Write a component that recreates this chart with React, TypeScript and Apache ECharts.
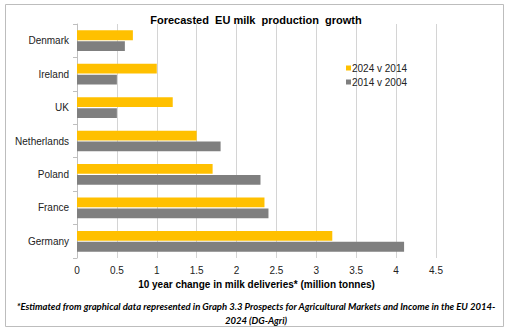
import React, { useEffect, useRef } from "react";
import * as echarts from "echarts";

const countries = ["Denmark", "Ireland", "UK", "Netherlands", "Poland", "France", "Germany"];
const growth2024v2014 = [0.7, 1.0, 1.2, 1.5, 1.7, 2.35, 3.2];
const growth2014v2004 = [0.6, 0.5, 0.5, 1.8, 2.3, 2.4, 4.1];
const seriesNames = ["2024 v 2014", "2014 v 2004"];
const titleText = "Forecasted  EU milk  production  growth";
const xAxisName = "10 year change in milk deliveries* (million tonnes)";
const footnote1 = "*Estimated from graphical data represented in Graph 3.3 Prospects for Agricultural Markets and Income in the EU 2014-";
const footnote2 = "2024 (DG-Agri)";

export default function App() {
  const ref = useRef<HTMLDivElement>(null);
  useEffect(() => {
    if (!ref.current) return;
    const chart = echarts.init(ref.current, null, { renderer: "svg" });
    const font = "'Liberation Sans', Arial, sans-serif";
    chart.setOption({
      animation: false,
      backgroundColor: "#fff",
      title: {
        text: titleText,
        left: "center",
        top: 9,
        textStyle: { fontFamily: font, fontSize: 11, fontWeight: "bold", color: "#000" },
      },
      legend: {
        orient: "vertical",
        left: 341,
        top: 58,
        itemWidth: 5,
        itemHeight: 5,
        itemGap: 4,
        icon: "rect",
        textStyle: { fontFamily: font, fontSize: 10, color: "#222", padding: [0, 0, 0, -4] },
        data: seriesNames,
      },
      grid: { left: 77, right: 76, top: 24, bottom: 77, containLabel: false },
      xAxis: {
        type: "value",
        min: 0,
        max: 4.5,
        interval: 0.5,
        name: xAxisName,
        nameLocation: "middle",
        nameGap: 21,
        nameTextStyle: { fontFamily: font, fontSize: 10, fontWeight: "bold", color: "#000" },
        axisLine: { show: false },
        axisTick: { show: false },
        axisLabel: { fontFamily: font, fontSize: 10, color: "#222", margin: 7 },
        splitLine: { show: true, lineStyle: { color: "#d4d4d4", width: 1 } },
      },
      yAxis: {
        type: "category",
        data: countries,
        inverse: true,
        axisLine: { show: true, lineStyle: { color: "#bfbfbf" } },
        axisTick: { show: true, length: 4, lineStyle: { color: "#bfbfbf" } },
        axisLabel: { fontFamily: font, fontSize: 10, color: "#222", margin: 8 },
      },
      series: [
        {
          name: seriesNames[0],
          type: "bar",
          data: growth2024v2014,
          itemStyle: { color: "#FFC000" },
          barGap: "12%",
          barCategoryGap: "38%",
        },
        {
          name: seriesNames[1],
          type: "bar",
          data: growth2014v2004,
          itemStyle: { color: "#7F7F7F" },
          barGap: "12%",
          barCategoryGap: "38%",
        },
      ],
      graphic: [
        {
          type: "rect",
          shape: { x: 5.5, y: 4.5, width: 498, height: 322 },
          style: { fill: "none", stroke: "#bdbdbd", lineWidth: 1 },
          silent: true,
          z: -1,
        },
        {
          type: "text",
          x: 256,
          y: 301,
          style: {
            text: footnote1,
            fontFamily: "Lato, 'Open Sans', sans-serif",
            fontSize: 9.5,
            fontWeight: "bold",
            fontStyle: "italic",
            fill: "#000",
            textAlign: "center",
          },
        },
        {
          type: "text",
          x: 256,
          y: 315,
          style: {
            text: footnote2,
            fontFamily: "Lato, 'Open Sans', sans-serif",
            fontSize: 9.5,
            fontWeight: "bold",
            fontStyle: "italic",
            fill: "#000",
            textAlign: "center",
          },
        },
      ],
    });
    return () => chart.dispose();
  }, []);
  return (
    <div
      ref={ref}
      style={{ position: "absolute", left: 0, top: 0, width: 512, height: 335 }}
    />
  );
}
